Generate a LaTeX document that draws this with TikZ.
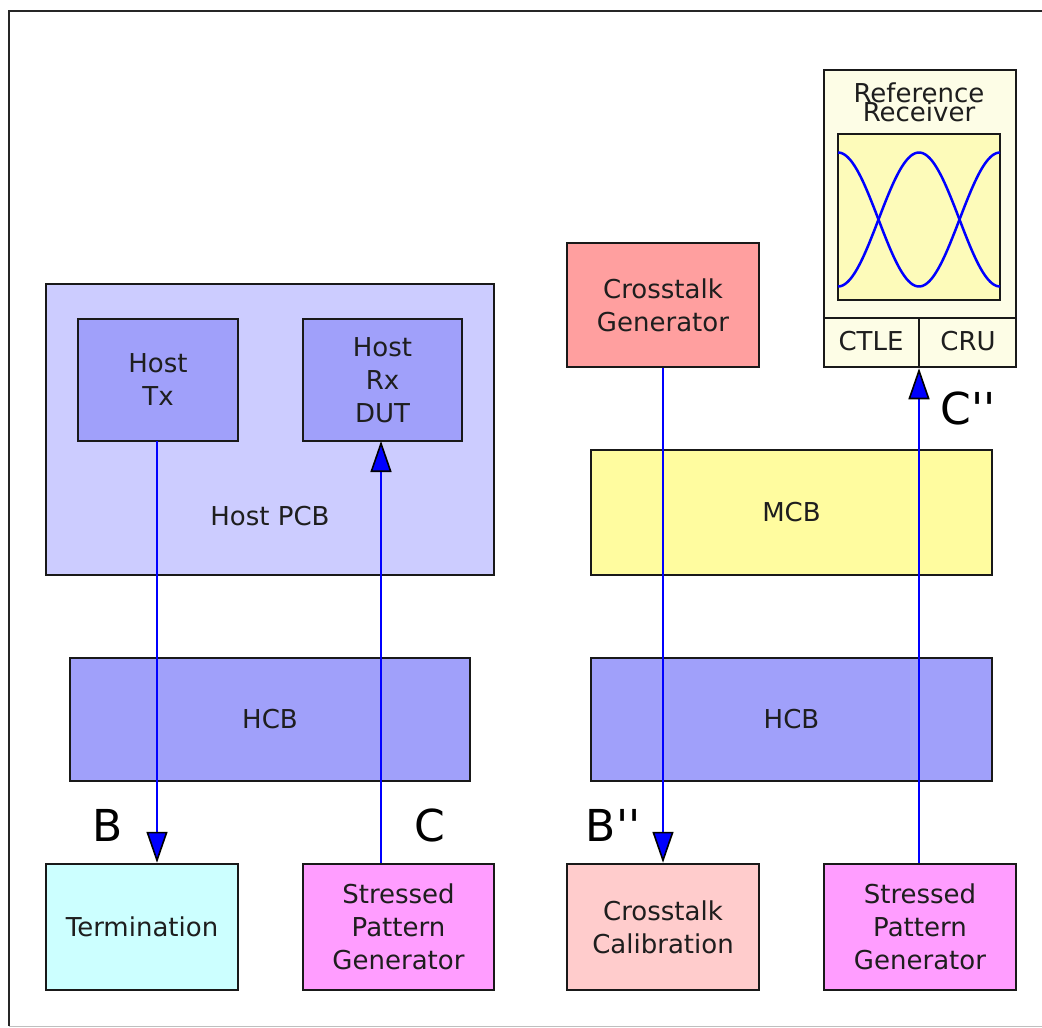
\documentclass[tikz,border=0pt]{standalone}
\usepackage{fontspec}
\setmainfont{DejaVu Sans}
\newfontfamily\lblfont{DejaVu Sans}
\usetikzlibrary{arrows.meta}
\definecolor{pcb}{HTML}{CCCCFF}
\definecolor{chip}{HTML}{A0A0FA}
\definecolor{term}{HTML}{CCFFFF}
\definecolor{spg}{HTML}{FF9DFF}
\definecolor{xgen}{HTML}{FF9F9F}
\definecolor{xcal}{HTML}{FFCCCC}
\definecolor{mcb}{HTML}{FFFC9F}
\definecolor{refrx}{HTML}{FDFDE6}
\definecolor{eye}{HTML}{FDFBBA}
\definecolor{txt}{HTML}{1E1E1E}
\begin{document}
\begin{tikzpicture}[x=1pt,y=-1pt,
  box/.style={draw=black!90, line width=2.5pt, rectangle, inner sep=0pt, align=center,
    text=txt, font=\fontsize{26}{33}\selectfont},
  sig/.style={draw=blue, line width=2.5pt},
  sigarrow/.style={sig, -{Triangle[width=21pt,length=31pt,color=black,fill=blue,line width=1.6pt]}},
  lbl/.style={text=black, font=\lblfont\fontsize{44}{44}\selectfont, inner sep=0pt},
  small/.style={text=txt, font=\fontsize{26}{26}\selectfont, inner sep=0pt}]
\useasboundingbox (0,0) rectangle (1042,1028);
% outer frame
\draw[black!85, line width=2.5pt] (9,1026) -- (9,11) -- (1044,11);
\draw[black!25, line width=1pt] (9,1026.5) -- (1044,1026.5);

% left side
\node[box, fill=pcb, minimum width=448pt, minimum height=291pt] (pcb) at (270,429.5) {};
\node[small] (pcblabel) at (270,516) {Host PCB};
\node[box, fill=chip, minimum width=160pt, minimum height=122pt] (tx) at (158,380) {Host\\Tx};
\node[box, fill=chip, minimum width=159pt, minimum height=122pt] (rx) at (382.5,380) {Host\\Rx\\DUT};
\node[box, fill=chip, minimum width=400pt, minimum height=123pt] (hcbl) at (270,719.5) {HCB};
\node[box, fill=term, minimum width=192pt, minimum height=126pt] (term) at (142,927) {Termination};
\node[box, fill=spg, minimum width=191pt, minimum height=126pt] (spgl) at (398.5,927) {Stressed\\Pattern\\Generator};

% right side
\node[box, fill=xgen, minimum width=192pt, minimum height=124pt] (xgen) at (663,305) {Crosstalk\\Generator};
\node[box, fill=refrx, minimum width=192pt, minimum height=297pt] (ref) at (920,218.5) {};
\node[box, fill=eye, minimum width=162pt, minimum height=166pt] (eyebox) at (919,217) {};
\node[small] (reflabel1) at (919,93) {Reference};
\node[small] (reflabel2) at (919,112) {Receiver};
\coordinate (divl) at (824,318);
\coordinate (divr) at (1016,318);
\coordinate (divm) at (919,318);
\draw[black!90, line width=2.5pt] (divl) -- (divr);
\draw[black!90, line width=2.5pt] (divm) -- (divm |- ref.south);
\node[small] (ctle) at (871,341) {CTLE};
\node[small] (cru) at (968,341) {CRU};
\draw[blue, line width=2.5pt, domain=0:162, samples=100, smooth]
  plot ({838+\x}, {219.5-67*cos(\x/162*360)});
\draw[blue, line width=2.5pt, domain=0:162, samples=100, smooth]
  plot ({838+\x}, {219.5+67*cos(\x/162*360)});

\node[box, fill=mcb, minimum width=401pt, minimum height=125pt] (mcb) at (791.5,512.5) {MCB};
\node[box, fill=chip, minimum width=401pt, minimum height=123pt] (hcbr) at (791.5,719.5) {HCB};
\node[box, fill=xcal, minimum width=192pt, minimum height=126pt] (xcal) at (663,927) {Crosstalk\\Calibration};
\node[box, fill=spg, minimum width=192pt, minimum height=126pt] (spgr) at (920,927) {Stressed\\Pattern\\Generator};

% signals
\coordinate (txo) at (157,441);
\coordinate (rxi) at (381,441);
\draw[sigarrow] (txo) -- (txo |- term.north);
\draw[sigarrow] (rxi |- spgl.north) -- (rxi);
\draw[sigarrow] (xgen.south) -- (xcal.north);
\draw[sigarrow] (divm |- spgr.north) -- (divm |- ref.south);

% labels
\node[lbl] (lb) at (108,825) {B};
\node[lbl] (lc) at (430,825) {C};
\node[lbl] (lbb) at (613,825) {B''};
\node[lbl] (lcc) at (968,408) {C''};
\end{tikzpicture}
\end{document}
